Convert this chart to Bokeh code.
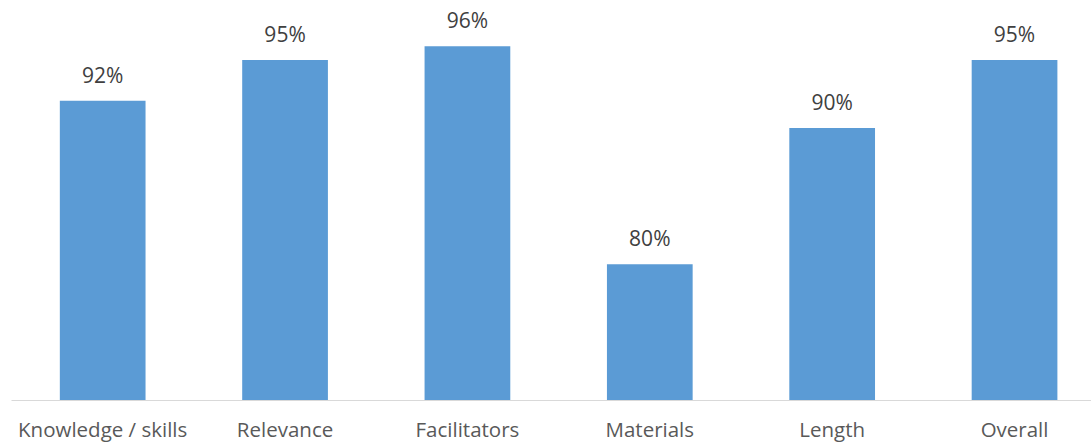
from bokeh.plotting import figure
from bokeh.models import ColumnDataSource, Range1d, FixedTicker
from bokeh.core.properties import value
from bokeh.embed import file_html
from bokeh.resources import INLINE

categories = ["Knowledge / skills", "Relevance", "Facilitators", "Materials", "Length", "Overall"]
values = [92, 95, 96, 80, 90, 95]
labels = [f"{v}%" for v in values]

xs = list(range(len(categories)))
src = ColumnDataSource(dict(x=xs, top=values, label=labels))

p = figure(width=1091, height=445, output_backend="svg", toolbar_location=None,
           x_range=Range1d(-0.5, 5.422), y_range=Range1d(70, 99.36),
           min_border_left=11, min_border_right=0, min_border_top=0, min_border_bottom=43)
p.outline_line_color = None
p.background_fill_color = "white"
p.border_fill_color = "white"

p.vbar(x="x", top="top", bottom=70, width=0.47, source=src, color="#5B9BD5", line_color=None)
p.text(x="x", y="top", text="label", source=src, text_align="center", text_baseline="alphabetic",
       y_offset=-26, text_font=value("Open Sans"), text_font_size="21px", text_color="#404040")

p.yaxis.visible = False
p.grid.visible = False
ax = p.xaxis[0]
ax.ticker = FixedTicker(ticks=xs)
ax.major_label_overrides = {i: c for i, c in enumerate(categories)}
ax.major_tick_line_color = None
ax.major_tick_out = 0
ax.major_tick_in = 0
ax.minor_tick_line_color = None
ax.minor_tick_out = 0
ax.axis_line_color = "#D9D9D9"
ax.axis_line_width = 1
ax.major_label_text_font = "Open Sans"
ax.major_label_text_font_size = "20.5px"
ax.major_label_text_color = "#595959"
ax.major_label_standoff = 14

open("out.html", "w").write(file_html(p, INLINE))
